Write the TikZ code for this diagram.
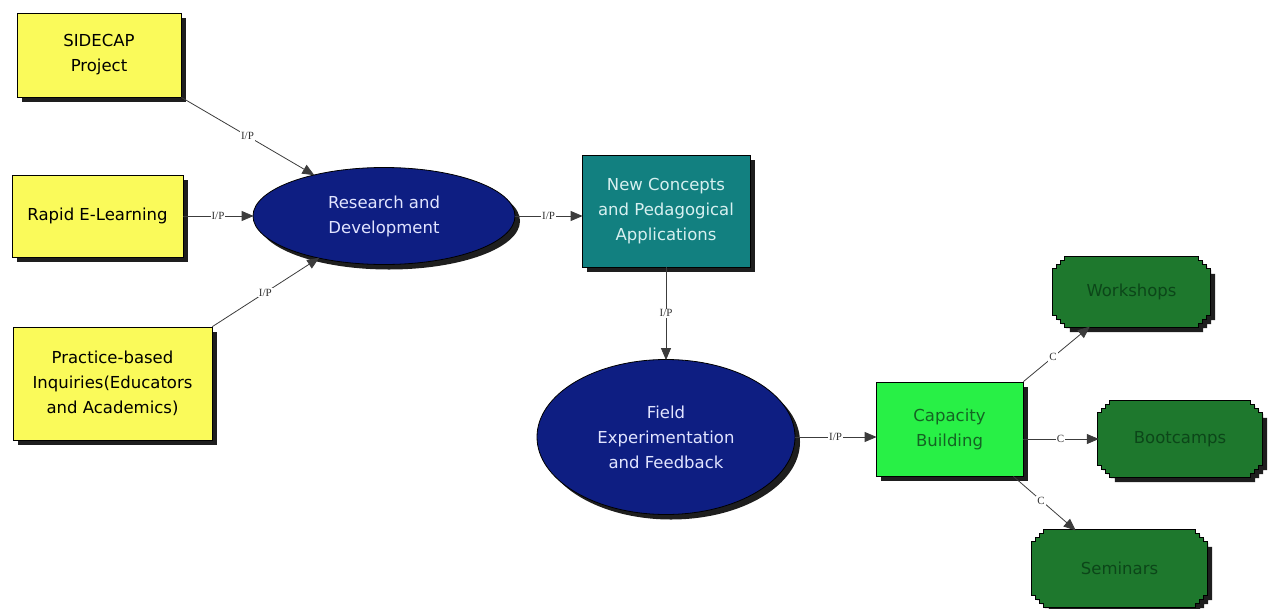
\documentclass[tikz,border=0pt]{standalone}
\usepackage{fontspec}
\setmainfont{DejaVu Sans}
\newfontfamily\lblfont{Liberation Serif}
\usetikzlibrary{shapes.geometric,arrows.meta,shadows,calc}
\definecolor{boxyellow}{RGB}{250,250,90}
\definecolor{navyfill}{RGB}{14,30,130}
\definecolor{navytext}{RGB}{225,228,255}
\definecolor{tealfill}{RGB}{18,128,128}
\definecolor{tealtext}{RGB}{215,240,240}
\definecolor{lightgreen}{RGB}{40,240,70}
\definecolor{capatext}{RGB}{20,100,35}
\definecolor{darkgreen}{RGB}{30,120,45}
\definecolor{dgtext}{RGB}{12,70,25}
\definecolor{shadowc}{RGB}{30,30,30}
\definecolor{linec}{RGB}{60,60,60}
\newcommand{\notchshape}[3]{%
 \path[#2] let \p1=(#1.north west), \p2=(#1.south east) in
  ({\x1+12pt+#3},{\y1-#3}) -- ({\x2-12pt+#3},{\y1-#3}) -- ++(0pt,-4pt) -- ++(4pt,0pt) -- ++(0pt,-4pt) -- ++(4pt,0pt) -- ++(0pt,-4pt) -- ++(4pt,0pt)
  -- ({\x2+#3},{\y2+12pt-#3}) -- ++(-4pt,0pt) -- ++(0pt,-4pt) -- ++(-4pt,0pt) -- ++(0pt,-4pt) -- ++(-4pt,0pt) -- ++(0pt,-4pt)
  -- ({\x1+12pt+#3},{\y2-#3}) -- ++(0pt,4pt) -- ++(-4pt,0pt) -- ++(0pt,4pt) -- ++(-4pt,0pt) -- ++(0pt,4pt) -- ++(-4pt,0pt)
  -- ({\x1+#3},{\y1-12pt-#3}) -- ++(4pt,0pt) -- ++(0pt,4pt) -- ++(4pt,0pt) -- ++(0pt,4pt) -- ++(4pt,0pt) -- cycle;}
\tikzset{
  shad/.style={drop shadow={shadow xshift=5pt,shadow yshift=-5pt,fill=shadowc,opacity=1}},
  txt/.style={font=\fontsize{16.5}{25}\selectfont,align=center,inner sep=0pt},
  ybox/.style={txt,rectangle,draw=black,line width=0.8pt,fill=boxyellow,shad,text=black},
  oval/.style={txt,ellipse,draw=black,line width=0.8pt,fill=navyfill,shad,text=navytext},
  tbox/.style={txt,rectangle,draw=black,line width=0.8pt,fill=tealfill,shad,text=tealtext},
  gbox/.style={txt,rectangle,draw=black,line width=0.8pt,fill=lightgreen,shad,text=capatext},
  nbox/.style={txt,rectangle,text=dgtext},
  nfill/.style={fill=darkgreen,draw=black,line width=0.8pt},
  nshad/.style={fill=shadowc},
  conn/.style={draw=linec,line width=0.8pt,-{Triangle[length=12pt,width=10pt]},shorten >=-1pt},
  lbl/.style={font=\lblfont\fontsize{11}{12}\selectfont,fill=white,inner sep=1pt,text=black!80}
}
\begin{document}
\begin{tikzpicture}[x=1pt,y=-1pt]
\useasboundingbox (0,0) rectangle (1268,608);
% left inputs
\node[ybox,minimum width=164pt,minimum height=84pt] (sidecap) at (99,55) {SIDECAP\\Project};
\node[ybox,minimum width=171pt,minimum height=82pt] (rapid) at (97.5,216) {Rapid E-Learning};
\node[ybox,minimum width=199pt,minimum height=113pt] (practice) at (112.5,383.5) {Practice-based\\Inquiries(Educators\\and Academics)};
\node[oval,minimum width=262pt,minimum height=97pt] (rd) at (384,216) {Research and\\Development};
\node[tbox,minimum width=168pt,minimum height=112pt] (newc) at (666,211) {New Concepts\\and Pedagogical\\Applications};
\node[oval,minimum width=258pt,minimum height=155pt] (field) at (666,437) {Field\\Experimentation\\and Feedback};
\node[gbox,minimum width=147pt,minimum height=94pt] (cap) at (949.5,429) {Capacity\\Building};
% notched output boxes
\node[nbox,minimum width=157pt,minimum height=70pt] (work) at (1131.5,292) {};
\node[nbox,minimum width=164pt,minimum height=76pt] (boot) at (1180,439) {};
\node[nbox,minimum width=175pt,minimum height=77pt] (sem) at (1119.5,568.5) {};
\foreach \nm in {work,boot,sem}{\notchshape{\nm}{nshad}{5pt}}
\foreach \nm in {work,boot,sem}{\notchshape{\nm}{nfill}{0pt}}
\node[nbox] at (work) {Workshops};
\node[nbox] at (boot) {Bootcamps};
\node[nbox] at (sem) {Seminars};
% connectors
\draw[conn] (sidecap.south east) -- node[lbl,pos=0.5] {I/P} (rd);
\draw[conn] (rapid.east) -- node[lbl] {I/P} (rd.west);
\draw[conn] (practice.north east) -- node[lbl,pos=0.5] {I/P} (rd);
\draw[conn] (rd.east) -- node[lbl] {I/P} (rd.east -| newc.west);
\draw[conn] (newc.south) -- node[lbl] {I/P} (field.north);
\draw[conn] (field.east) -- node[lbl] {I/P} (field.east -| cap.west);
\draw[conn] (cap.north east) -- node[lbl,pos=0.45] {C} (work);
\draw[conn] (boot.west -| cap.east) -- node[lbl] {C} (boot.west);
\draw[conn] ([xshift=-10pt]cap.south east) -- node[lbl,pos=0.45] {C} (sem);
\end{tikzpicture}
\end{document}
